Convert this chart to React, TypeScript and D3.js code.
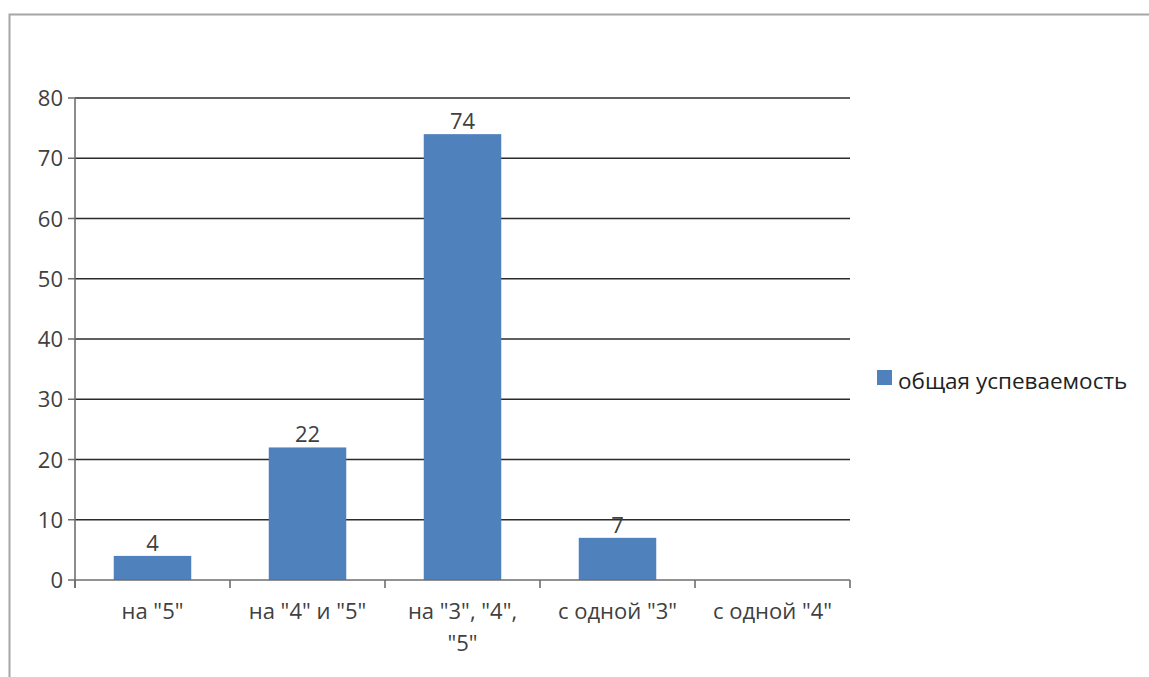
import React from "react";
import * as d3 from "d3";

const categories: string[][] = [
  ['на "5"'],
  ['на "4" и "5"'],
  ['на "3", "4",', '"5"'],
  ['с одной "3"'],
  ['с одной "4"'],
];
const values: (number | null)[] = [4, 22, 74, 7, null];
const yTicks: number[] = [0, 10, 20, 30, 40, 50, 60, 70, 80];
const seriesName = "общая успеваемость";

const W = 1149;
const H = 677;
const left = 75;
const right = 850;
const top = 98;
const bottom = 580;
const barColor = "#4F81BD";
const font = "'Open Sans', 'DejaVu Sans', sans-serif";
const textColor = "#404040";

export default function App() {
  const x = d3.scaleBand<number>().domain(d3.range(categories.length)).range([left, right]).paddingInner(0.5).paddingOuter(0.25);
  const xb = d3.scaleBand<number>().domain(d3.range(categories.length)).range([left, right]);
  const y = d3.scaleLinear().domain([0, 80]).range([bottom, top]);

  return (
    <svg width={W} height={H} style={{ position: "absolute", left: 0, top: 0, background: "#fff" }}>
      <rect x={9.5} y={14.5} width={W} height={H} fill="#fff" stroke="#a6a6a6" strokeWidth={2} />
      {yTicks.map((t) => (
        <g key={t}>
          {t > 0 && <line x1={left} x2={right} y1={y(t)} y2={y(t)} stroke="#2b2b2b" strokeWidth={1.6} />}
          <line x1={left - 7} x2={left} y1={y(t)} y2={y(t)} stroke="#6e6e6e" strokeWidth={1.5} />
          <text x={left - 12} y={y(t) + 8} textAnchor="end" fontFamily={font} fontSize={22} fill={textColor}>{t}</text>
        </g>
      ))}
      {values.map((v, i) =>
        v == null ? null : (
          <g key={i}>
            <rect x={x(i)} y={y(v)} width={x.bandwidth()} height={bottom - y(v)} fill={barColor} />
            <text x={(x(i) as number) + x.bandwidth() / 2} y={y(v) - 5} textAnchor="middle" fontFamily={font} fontSize={22} fill={textColor}>{v}</text>
          </g>
        )
      )}
      <line x1={left} x2={left} y1={top} y2={bottom + 8} stroke="#6e6e6e" strokeWidth={1.6} />
      <line x1={left} x2={right} y1={bottom} y2={bottom} stroke="#6e6e6e" strokeWidth={1.6} />
      {d3.range(categories.length + 1).map((i) => {
        const xx = i < categories.length ? (xb(i) as number) : right;
        return <line key={i} x1={xx} x2={xx} y1={bottom} y2={bottom + 8} stroke="#6e6e6e" strokeWidth={1.6} />;
      })}
      {categories.map((lines, i) => (
        <text key={i} textAnchor="middle" fontFamily={font} fontSize={22} fill={textColor}>
          {lines.map((l, j) => (
            <tspan key={j} x={(xb(i) as number) + xb.bandwidth() / 2} y={619 + j * 32}>{l}</tspan>
          ))}
        </text>
      ))}
      <rect x={877} y={370} width={15} height={15} fill={barColor} />
      <text x={898} y={389} fontFamily={font} fontSize={22.5} fill="#222">{seriesName}</text>
    </svg>
  );
}
